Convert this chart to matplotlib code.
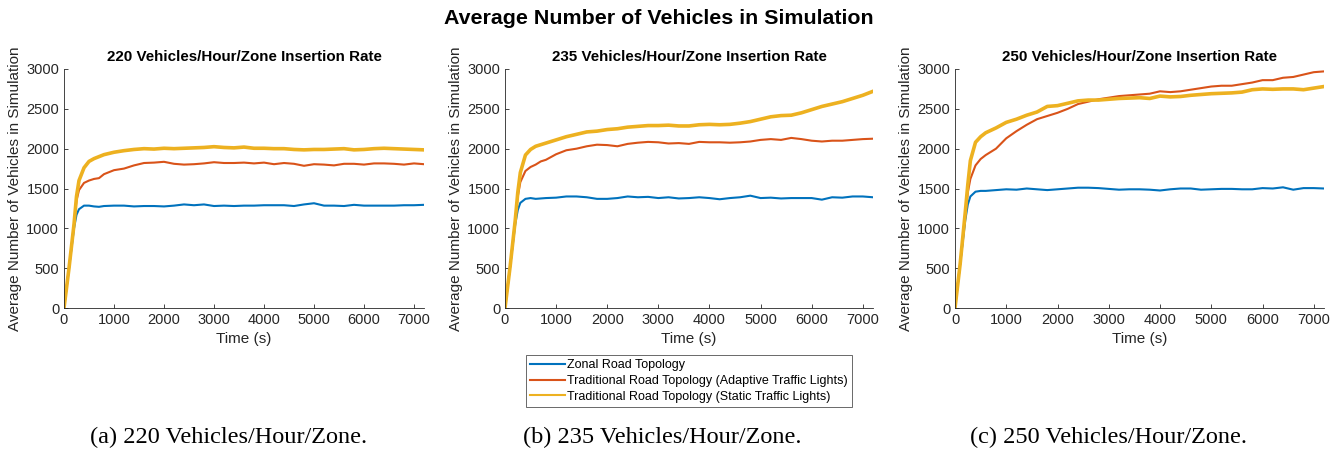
import matplotlib
matplotlib.use('Agg')
import matplotlib.pyplot as plt
from matplotlib.lines import Line2D

# sample times (s)
t = [0, 100, 200, 250, 300, 400, 500, 600, 700, 800] + list(range(1000, 7201, 200))

# 220 veh/h/zone
zonal_220 = [0, 500, 1000, 1170, 1240, 1285, 1285, 1275, 1270, 1280,
             1285, 1285, 1275, 1280, 1280, 1275, 1285, 1300, 1290, 1300, 1280, 1285, 1280, 1285, 1285, 1290,
             1290, 1290, 1280, 1300, 1315, 1285, 1285, 1280, 1295, 1285, 1285, 1285, 1285, 1290, 1290, 1295]
adaptive_220 = [0, 500, 1050, 1350, 1480, 1570, 1600, 1620, 1630, 1680,
                1730, 1750, 1790, 1820, 1825, 1835, 1810, 1800, 1805, 1815, 1830, 1820, 1820, 1825, 1815, 1825,
                1805, 1820, 1810, 1785, 1805, 1800, 1790, 1810, 1810, 1800, 1815, 1815, 1810, 1800, 1815, 1805]
static_220 = [0, 500, 1050, 1400, 1600, 1760, 1840, 1875, 1900, 1925,
              1955, 1975, 1990, 2000, 1995, 2005, 2000, 2005, 2010, 2015, 2025, 2015, 2010, 2020, 2005, 2005,
              2000, 2000, 1990, 1985, 1990, 1990, 1995, 2000, 1985, 1990, 2000, 2005, 2000, 1995, 1990, 1985]

# 235 veh/h/zone
zonal_235 = [0, 520, 1050, 1230, 1320, 1370, 1380, 1370, 1375, 1380,
             1385, 1400, 1400, 1390, 1370, 1370, 1380, 1400, 1390, 1395, 1380, 1390, 1375, 1380, 1390, 1380,
             1365, 1380, 1390, 1410, 1380, 1385, 1375, 1380, 1380, 1380, 1360, 1390, 1385, 1400, 1400, 1390]
adaptive_235 = [0, 520, 1100, 1400, 1580, 1720, 1770, 1800, 1840, 1860,
                1930, 1980, 2000, 2030, 2050, 2045, 2030, 2060, 2075, 2085, 2080, 2065, 2070, 2060, 2085, 2080,
                2080, 2075, 2080, 2090, 2110, 2120, 2110, 2135, 2120, 2100, 2090, 2100, 2100, 2110, 2120, 2125]
static_235 = [0, 520, 1100, 1450, 1700, 1920, 1990, 2030, 2050, 2070,
              2110, 2150, 2180, 2210, 2220, 2240, 2250, 2270, 2280, 2290, 2290, 2295, 2285, 2285, 2300, 2305,
              2300, 2305, 2320, 2340, 2370, 2400, 2415, 2420, 2450, 2490, 2530, 2560, 2590, 2630, 2670, 2720]

# 250 veh/h/zone
zonal_250 = [0, 550, 1100, 1300, 1400, 1460, 1470, 1470, 1475, 1480,
             1490, 1485, 1500, 1490, 1480, 1490, 1500, 1510, 1510, 1505, 1495, 1485, 1490, 1490, 1485, 1475,
             1490, 1500, 1500, 1485, 1490, 1495, 1495, 1490, 1490, 1505, 1500, 1515, 1485, 1505, 1505, 1500]
adaptive_250 = [0, 550, 1150, 1450, 1620, 1790, 1870, 1920, 1960, 2000,
                2130, 2220, 2300, 2370, 2410, 2450, 2500, 2560, 2590, 2620, 2640, 2660, 2670, 2680, 2690, 2720,
                2710, 2720, 2740, 2760, 2780, 2790, 2790, 2810, 2830, 2860, 2860, 2890, 2900, 2930, 2960, 2970]
static_250 = [0, 550, 1200, 1550, 1850, 2080, 2150, 2200, 2230, 2260,
              2330, 2370, 2420, 2460, 2530, 2540, 2570, 2600, 2610, 2610, 2620, 2630, 2635, 2640, 2630, 2660,
              2650, 2655, 2670, 2680, 2690, 2695, 2700, 2710, 2740, 2750, 2745, 2750, 2750, 2740, 2760, 2780]

rates = ['220', '235', '250']
captions = ['(a) 220 Vehicles/Hour/Zone.', '(b) 235 Vehicles/Hour/Zone.', '(c) 250 Vehicles/Hour/Zone.']
series = [(zonal_220, adaptive_220, static_220),
          (zonal_235, adaptive_235, static_235),
          (zonal_250, adaptive_250, static_250)]
names = ['Zonal Road Topology',
         'Traditional Road Topology (Adaptive Traffic Lights)',
         'Traditional Road Topology (Static Traffic Lights)']
colors = ['#0072BD', '#D95319', '#EDB120']
widths = [1.5, 1.5, 2.6]

plt.rcParams['font.family'] = ['Liberation Sans', 'DejaVu Sans']

fig = plt.figure(figsize=(13.4, 4.49), dpi=100)
lefts = [64, 505, 955]
wids = [360, 368, 369]
cap_x = [229, 662, 1109]

for i in range(3):
    ax = fig.add_axes([lefts[i] / 1340, 1 - 308 / 449, wids[i] / 1340, 239 / 449])
    for k in range(3):
        ax.plot(t, series[i][k], color=colors[k], lw=widths[k], label=names[k])
    ax.set_xlim(0, 7200)
    ax.set_ylim(0, 3000)
    ax.set_xticks(range(0, 7001, 1000))
    ax.set_yticks(range(0, 3001, 500))
    for s in ['top', 'right']:
        ax.spines[s].set_visible(False)
    for s in ['left', 'bottom']:
        ax.spines[s].set_color('#262626')
        ax.spines[s].set_linewidth(0.6)
    ax.tick_params(direction='in', length=3, width=0.6, colors='#262626', labelsize=10.5)
    ax.set_title(rates[i] + ' Vehicles/Hour/Zone Insertion Rate', fontsize=10.9,
                 fontweight='bold', pad=6)
    ax.set_xlabel('Time (s)', fontsize=11, color='#262626', labelpad=4)
    ax.set_ylabel('Average Number of Vehicles in Simulation', fontsize=11,
                  color='#262626', labelpad=3)
    fig.text(cap_x[i] / 1340, 1 - 437 / 449, captions[i], ha='center', va='center',
             fontsize=17.5, family='Liberation Serif')

fig.text(659 / 1340, 1 - 19 / 449, 'Average Number of Vehicles in Simulation', ha='center',
         va='center', fontsize=15.4, fontweight='bold')

handles = [Line2D([], [], color=c, lw=1.5) for c in colors]
leg = fig.legend(handles, names, loc='center', bbox_to_anchor=(689 / 1340, 1 - 381 / 449),
                 fontsize=9, frameon=True, fancybox=False, handlelength=2.8,
                 handletextpad=0.2, borderpad=0.35, labelspacing=0.3, borderaxespad=0)
leg.get_frame().set_edgecolor('#262626')
leg.get_frame().set_linewidth(0.6)

fig.savefig('out.png', dpi=100)
